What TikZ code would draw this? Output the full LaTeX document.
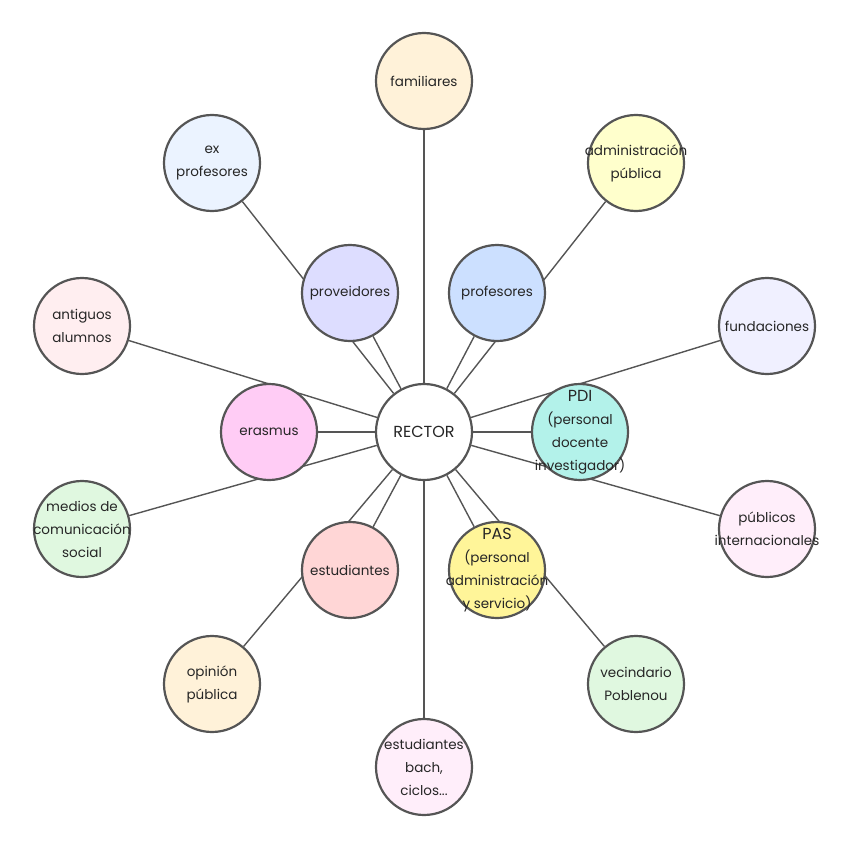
\documentclass[tikz,border=0pt]{standalone}
\usepackage{fontspec}
\setmainfont{Poppins}
\usetikzlibrary{backgrounds}

\definecolor{lineGray}{HTML}{555555}
\definecolor{cPeach}{HTML}{FFF2D9}
\definecolor{cSky}{HTML}{EBF3FF}
\definecolor{cLemon}{HTML}{FFFFCC}
\definecolor{cLav}{HTML}{DDDDFF}
\definecolor{cBlue}{HTML}{CCE0FF}
\definecolor{cRose}{HTML}{FFEEF0}
\definecolor{cLilac}{HTML}{F0F0FF}
\definecolor{cPink}{HTML}{FFCCF5}
\definecolor{cAqua}{HTML}{B3F2EA}
\definecolor{cMint}{HTML}{E0F8E0}
\definecolor{cBlush}{HTML}{FFEEFA}
\definecolor{cSalmon}{HTML}{FFD6D6}
\definecolor{cYellow}{HTML}{FFF599}

\newcommand{\bigtitle}[1]{{\fontsize{16}{23}\selectfont #1}}

\begin{document}
\begin{tikzpicture}[x=1pt, y=-1pt,
  bubble/.style={circle, draw=lineGray, line width=2.2pt, minimum size=96pt,
    inner sep=-30pt, align=center, font=\fontsize{13.5}{23}\selectfont, text=black!85},
  link/.style={draw=lineGray, line width=1.4pt}]
  \useasboundingbox (0,0) rectangle (848,848);

  %% Centre
  \node[bubble, fill=white] (rector) at (424,432) {\bigtitle{RECTOR}};

  %% Inner ring
  \node[bubble, fill=cLav]    (prov)    at (350,293) {proveidores};
  \node[bubble, fill=cBlue]   (prof)    at (497,293) {profesores};
  \node[bubble, fill=cPink]   (erasmus) at (269,432) {erasmus};
  \node[bubble, fill=cAqua]   (pdi)     at (580,432) {\bigtitle{PDI}\\(personal\\docente\\investigador)};
  \node[bubble, fill=cSalmon] (estud)   at (350,570) {estudiantes};
  \node[bubble, fill=cYellow] (pas)     at (497,570) {\bigtitle{PAS}\\(personal\\administración\\y servicio)};

  %% Outer ring
  \node[bubble, fill=cPeach]  (famil)   at (424,81)  {familiares};
  \node[bubble, fill=cSky]    (expro)   at (212,163) {ex\\profesores};
  \node[bubble, fill=cLemon]  (admin)   at (636,163) {administración\\pública};
  \node[bubble, fill=cRose]   (antig)   at (82,326)  {antiguos\\alumnos};
  \node[bubble, fill=cLilac]  (fund)    at (767,326) {fundaciones};
  \node[bubble, fill=cMint]   (medios)  at (82,529)  {medios de\\comunicación\\social};
  \node[bubble, fill=cBlush]  (public)  at (767,529) {públicos\\internacionales};
  \node[bubble, fill=cPeach]  (opinion) at (212,684) {opinión\\pública};
  \node[bubble, fill=cMint]   (vecin)   at (636,684) {vecindario\\Poblenou};
  \node[bubble, fill=cBlush]  (bach)    at (424,767) {estudiantes\\bach,\\ciclos...};

  %% Links (behind the bubbles)
  \begin{scope}[on background layer]
    \foreach \n in {prov,prof,erasmus,pdi,estud,pas,famil,expro,admin,antig,fund,medios,public,opinion,vecin,bach}
      \draw[link] (rector) -- (\n);
  \end{scope}
\end{tikzpicture}
\end{document}
